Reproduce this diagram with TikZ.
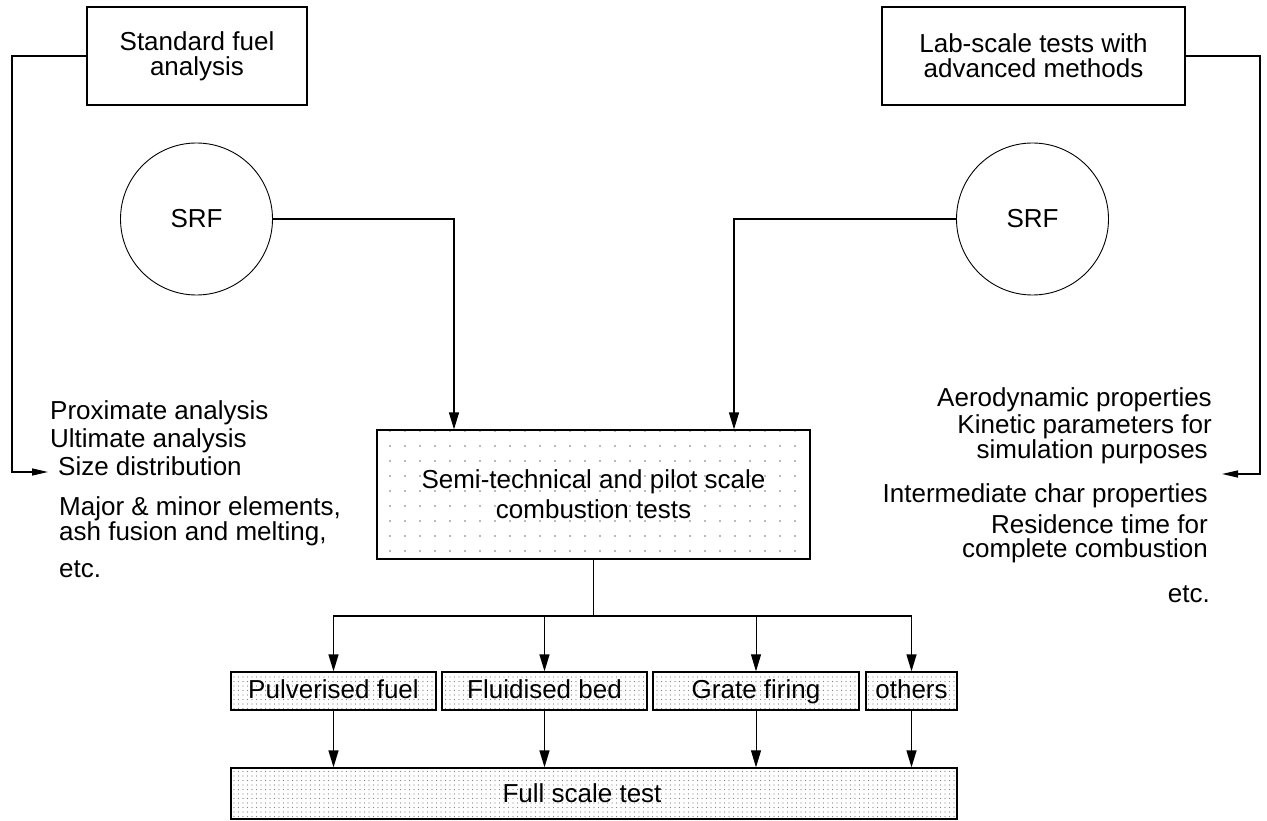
\documentclass[tikz,border=0pt]{standalone}
\usepackage{fontspec}
\setmainfont{Liberation Sans}
\usetikzlibrary{arrows.meta,patterns.meta}
\begin{document}
\begin{tikzpicture}[x=1pt,y=-1pt,
  every node/.style={font=\fontsize{26}{25}\selectfont},
  box/.style={draw, line width=1.3pt, rectangle, inner sep=0pt, align=center},
  circ/.style={draw, circle, minimum size=152pt, inner sep=0pt, line width=0.9pt},
  sparsedots/.style={pattern={Dots[distance=15pt,radius=0.8pt]}, pattern color=gray!90!black},
  densedots/.style={pattern={Dots[distance=4.5pt,radius=0.55pt]}, pattern color=gray},
  smallbox/.style={box, densedots, minimum height=38pt, text height=19pt, text depth=5pt},
  item/.style={inner sep=0pt},
  conn/.style={line width=1.3pt},
  thinconn/.style={line width=0.9pt},
  arr/.style={conn, -{Triangle[length=17pt,width=10pt]}},
  sidearr/.style={conn, -{Triangle[length=16pt,width=7pt]}}
]
\useasboundingbox (0,0) rectangle (1267,821);

% top boxes
\node[box, minimum width=220pt, minimum height=98pt] (std) at (197,56) {Standard fuel\\analysis};
\node[box, minimum width=303pt, minimum height=98pt] (lab) at (1033.5,56) {Lab-scale tests with\\advanced methods};

% SRF circles
\node[circ] (srfL) at (196.5,219) {SRF};
\node[circ] (srfR) at (1032.5,219) {SRF};

% central box
\node[box, sparsedots, minimum width=433pt, minimum height=129pt] (semi) at (593.5,494.5)
  {Semi-technical and pilot scale\\[5pt]combustion tests};

% technology boxes
\node[smallbox, minimum width=205pt] (pf) at (333.5,691) {Pulverised fuel};
\node[smallbox, minimum width=205pt] (fb) at (544.5,691) {Fluidised bed};
\node[smallbox, minimum width=206pt] (gf) at (756,691) {Grate firing};
\node[smallbox, minimum width=91pt] (oth) at (911.5,691) {others};

% full scale
\node[box, densedots, minimum width=726pt, minimum height=51pt] (full) at (594,793.5) {\hspace*{-24pt}Full scale test};

% left list
\node[item, anchor=base west] (prox) at (50,419) {Proximate analysis};
\node[item, anchor=base west] (ult) at (50,447) {Ultimate analysis};
\node[item, anchor=base west] (size) at (58,475) {Size distribution};
\node[item, anchor=base west] (major) at (59,515) {Major \& minor elements,};
\node[item, anchor=base west] (ash) at (59,540) {ash fusion and melting,};
\node[item, anchor=base west] (etcL) at (59,577) {etc.};

% right list
\node[item, anchor=base east] (aero) at (1212,406) {Aerodynamic properties};
\node[item, anchor=base east] (kin) at (1212,433) {Kinetic parameters for};
\node[item, anchor=base east] (sim) at (1208,458) {simulation purposes};
\node[item, anchor=base east] (inter) at (1208,502) {Intermediate char properties};
\node[item, anchor=base east] (res) at (1208,533) {Residence time for};
\node[item, anchor=base east] (comp) at (1208,557) {complete combustion};
\node[item, anchor=base east] (etcR) at (1210,602) {etc.};

% side connectors
\coordinate (lx) at (12,472);
\coordinate (la) at (48,472);
\coordinate (rx) at (1260,474);
\coordinate (ra) at (1222,474);
\draw[sidearr] (std.west) -| (lx) -- (la);
\draw[sidearr] (lab.east) -| (rx) -- (ra);

% SRF to central box
\draw[arr] (srfL.east) -| ([xshift=-139.5pt]semi.north);
\draw[arr] (srfR.west) -| ([xshift=140.5pt]semi.north);

% distribution bus
\coordinate (bus) at (593.5,616);
\draw[conn] (semi.south) -- (bus);
\foreach \n in {pf,fb,oth} {
  \draw[arr] (bus) -| (\n.north);
  \draw[arr] (\n.south) -- (\n.south |- full.north);
}
\draw[arr, thinconn] (bus) -| (gf.north);
\draw[arr, thinconn] (gf.south) -- (gf.south |- full.north);
\end{tikzpicture}
\end{document}
